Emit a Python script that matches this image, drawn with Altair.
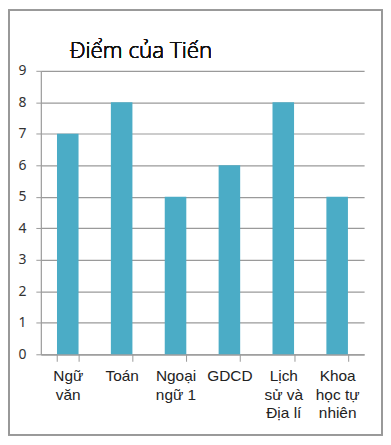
import altair as alt
import pandas as pd
import json

subjects = ["Ngữ văn", "Toán", "Ngoại ngữ 1", "GDCD", "Lịch sử và Địa lí", "Khoa học tự nhiên"]
label_lines = [["Ngữ", "văn"], ["Toán"], ["Ngoại", "ngữ 1"], ["GDCD"], ["Lịch", "sử và", "Địa lí"], ["Khoa", "học tự", "nhiên"]]
scores = [7, 8, 5, 6, 8, 5]
y_ticks = list(range(0, 10))
title_text = "Điểm của Tiến"

df = pd.DataFrame({"subject": subjects, "score": scores})
label_map = json.dumps(dict(zip(subjects, label_lines)), ensure_ascii=False)

W, H = 325, 285

bars = alt.Chart(df).mark_bar(color="#4BACC6").encode(
    x=alt.X("subject:N", sort=subjects, title=None,
            scale=alt.Scale(paddingInner=0.6, paddingOuter=0.3),
            axis=alt.Axis(labelAngle=0, tickBand="extent", tickSize=7,
                          labelExpr=f"{label_map}[datum.label]",
                          labelFont="Liberation Sans", labelFontSize=15.5,
                          labelColor="#222", labelLineHeight=19,
                          labelPadding=7, domainColor="#999", tickColor="#999",
                          labelBaseline="top")),
    y=alt.Y("score:Q", title=None,
            scale=alt.Scale(domain=[0, 9], nice=False),
            axis=alt.Axis(values=y_ticks, grid=True, gridColor="#9a9a9a",
                          tickSize=5, tickColor="#9a9a9a", domainColor="#9a9a9a",
                          labelFont="Noto Sans", labelFontSize=14, labelColor="#333",
                          labelFontWeight="normal", labelPadding=10)),
)

border = alt.Chart(df).mark_rect(fill=None, stroke="#999", strokeWidth=1.5).encode(
    x=alt.value(-32), x2=alt.value(343), y=alt.value(-61), y2=alt.value(366)
)

title = alt.Chart(df).mark_text(
    text=title_text, align="left", baseline="alphabetic",
    font="Open Sans", fontSize=22.5, fontWeight=300, color="#111"
).encode(x=alt.value(29), y=alt.value(-13))

chart = alt.layer(border, bars, title).properties(
    width=W, height=H,
    padding={"left": 33, "top": 62, "right": 19, "bottom": 82},
    autosize=alt.AutoSizeParams(type="none"),
).configure_view(stroke=None).configure_axis(gridWidth=1.2, domainWidth=1.2)

chart.save("out.html", embed_options={"renderer": "svg", "actions": False})
